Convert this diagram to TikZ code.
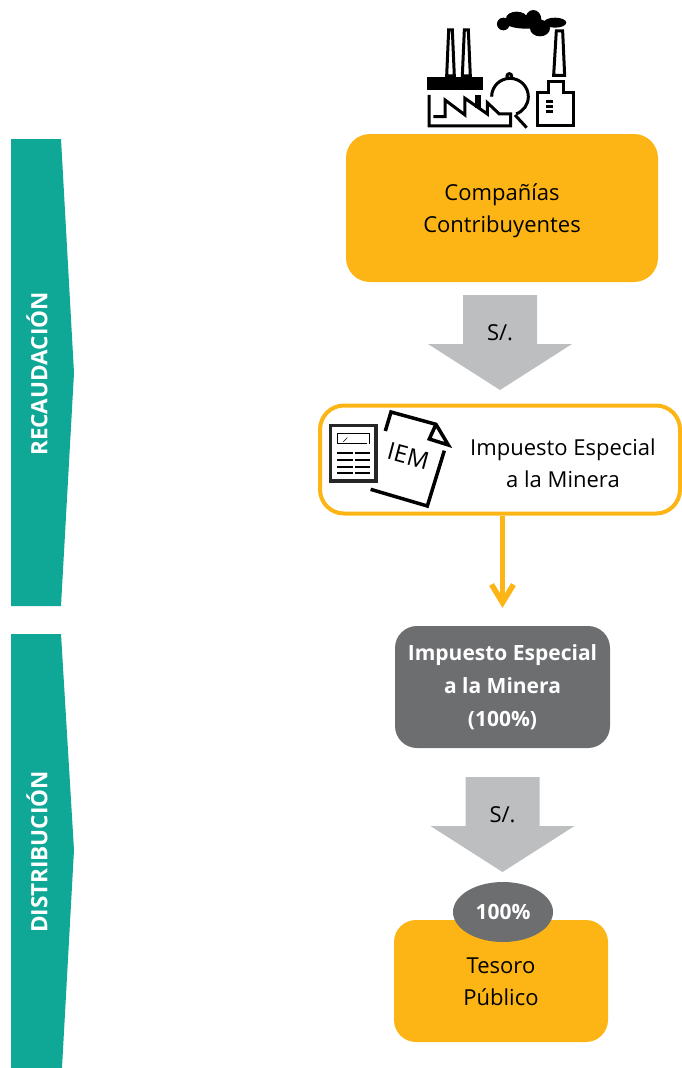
\documentclass[tikz,border=0pt]{standalone}
\usepackage{fontspec}
\setmainfont{Open Sans}
\usetikzlibrary{
    arrows.meta,
    shapes.geometric
}
\definecolor{boxyellow}{HTML}{FDB515}
\definecolor{boxgray}{HTML}{6D6E70}
\definecolor{arrowgray}{HTML}{BCBEC0}
\definecolor{bandteal}{HTML}{0FA896}
\newcommand{\bajar}[1]{\raisebox{-8pt}[0pt][0pt]{#1}}

\begin{document}
\begin{tikzpicture}[
  x=1pt, y=-1pt,
  yellowbox/.style={
    fill=boxyellow,
    rounded corners=24pt,
    align=center,
    font=\fontsize{22}{32}\selectfont
  },
  graybox/.style={
    fill=boxgray,
    text=white,
    rounded corners=22pt,
    align=center,
    font=\fontsize{21}{33}\selectfont\bfseries
  },
  grayarrow/.pic={
    \fill[arrowgray] (-37,0) -- (37,0) -- (37,49) -- (72,49) -- (0,95)
      -- (-72,49) -- (-37,49) -- cycle;
    \node[font=\fontsize{22}{26}\selectfont] (-soles) at (0,38) {S/.};
  },
  bandtext/.style={
    text=white,
    rotate=90,
    font=\fontsize{22.5}{26}\selectfont\bfseries
  },
  iconline/.style={
    draw=black,
    line width=3pt,
    line join=miter
  }
]
  \useasboundingbox (0,0) rectangle (682,1068);

  % bands {{{
  \fill[bandteal] (11,139) -- (61,139) -- (74,373) -- (61,606) -- (11,606) -- cycle;
  \fill[bandteal] (11,634) -- (61,634) -- (74,850) -- (62,1068) -- (11,1068) -- cycle;
  \node[bandtext] (recaudacion) at (37,374) {RECAUDACIÓN};
  \node[bandtext] (distribucion) at (37,852) {DISTRIBUCIÓN};
  % }}}

  % boxes {{{
  \node[
    yellowbox,
    minimum width=312pt,
    minimum height=148pt
  ] (companias) at (502,208)
  {\bajar{Compañías}\\\bajar{Contribuyentes}};

  \node[
    draw=boxyellow,
    line width=4pt,
    rounded corners=24pt,
    minimum width=360pt,
    minimum height=108pt
  ] (iem) at (500,459.5) {};
  \node[
    align=center,
    font=\fontsize{22}{32}\selectfont
  ] (iemtext) at (563,463)
  {Impuesto Especial\\a la Minera};

  \node[
    graybox,
    minimum width=215pt,
    minimum height=122pt
  ] (minera) at (502.5,687)
  {Impuesto Especial\\a la Minera\\(100\%)};

  \node[
    yellowbox,
    rounded corners=22pt,
    minimum width=214pt,
    minimum height=122pt
  ] (tesoro) at (501,981)
  {\bajar{Tesoro}\\\bajar{Público}};
  % }}}

  % arrows {{{
  \pic (flecha1) at (500,295) {grayarrow};
  \pic (flecha2) at (502.5,777) {grayarrow};
  \draw[
    draw=boxyellow,
    line width=4.5pt,
    -{Straight Barb[length=18pt,width=22pt,line width=5.5pt]},
    shorten >=18pt
  ] (minera.north |- iem.south) -- (minera.north);
  \node[
    ellipse,
    fill=boxgray,
    text=white,
    minimum width=100pt,
    minimum height=60pt,
    inner sep=0pt,
    font=\fontsize{21}{24}\selectfont\bfseries
  ] (porcentaje) at (503,912) {100\%};
  % }}}

  % factory icon {{{
  \begin{scope}[shift={(400,0)}, x=0.3333pt, y=-0.3333pt]
    % chimneys
    \draw[iconline] (140,228) -- (146,90) -- (157,90) -- (163,228) -- cycle;
    \draw[iconline] (187,228) -- (193,90) -- (205,90) -- (211,228) -- cycle;
    \fill (80,232) rectangle (250,270);
    % hall
    \draw[iconline] (87,285) -- (87,378) -- (332,378) -- (332,342) -- (298,342)
      -- (262,308) -- (262,342) -- (245,330) -- (195,295) -- (195,345) -- (135,300)
      -- (135,350) -- (100,350);
    \fill (225,285) rectangle (243,325);
    % tank
    \draw[iconline] (275,290) arc[start angle=180, end angle=430, radius=55];
    \draw[iconline, fill=white] (328,228) circle[radius=7];
    \draw[iconline] (345,345) -- (380,383);
    % building
    \draw[iconline] (412,378) -- (412,278) -- (447,278) -- (447,245) -- (492,245)
      -- (492,278) -- (520,278) -- (520,378) -- cycle;
    \fill (437,300) rectangle (460,308);
    \fill (437,315) rectangle (460,323);
    \fill (437,330) rectangle (460,338);
    \draw[iconline] (461,226) -- (469,93) -- (488,93) -- (494,226) -- cycle;
    % smoke
    \fill (310,72) circle[radius=19];
    \fill (350,55) ellipse[x radius=32, y radius=20];
    \fill (400,58) ellipse[x radius=24, y radius=28];
    \fill (420,85) ellipse[x radius=30, y radius=24];
    \fill (465,68) ellipse[x radius=34, y radius=15];
    \fill (380,70) ellipse[x radius=60, y radius=16];
  \end{scope}
  % }}}

  % document icon {{{
  \begin{scope}[shift={(310,390)}, x=0.3333pt, y=-0.3333pt]
    % calculator
    \draw[draw=black!85, line width=3.5pt] (62,107) rectangle (198,273);
    \draw[line width=1pt] (82,130) -- (180,130) -- (180,162);
    \draw[line width=1pt] (82,130) -- (82,162) -- (170,162);
    \draw[line width=0.7pt] (100,155) -- (112,143);
    \foreach \yrow in {190,210,230,250}
      \draw[line width=2pt, dash pattern=on 16pt off 2pt] (82,\yrow) -- (180,\yrow);
    % sheet
    \draw[line width=3.5pt] (226,123) -- (243,66) -- (378,103) -- (415,165) -- (358,147) -- (378,103);
    \draw[line width=3.5pt] (403,182) -- (352,348) -- (182,298);
    \node[rotate=-15, font=\fontsize{24}{28}\selectfont] (iemlabel) at (295,198) {IEM};
  \end{scope}
  % }}}

\end{tikzpicture}
\end{document}
